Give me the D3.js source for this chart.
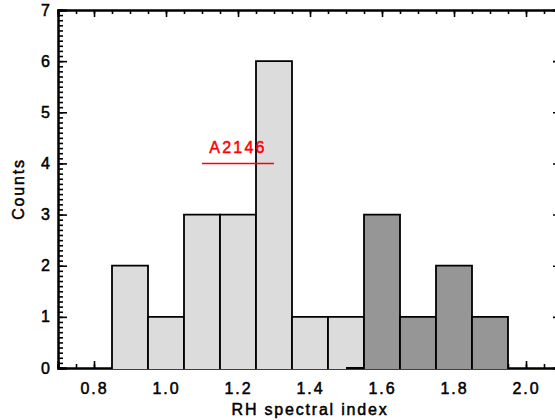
<!DOCTYPE html>
<html>
<head>
<meta charset="utf-8">
<script src="https://cdn.jsdelivr.net/npm/d3@7"></script>
<style>
  body { margin: 0; overflow: hidden; background: #fff; }
  text { font-family: "Liberation Sans", Arial, sans-serif; }
</style>
</head>
<body>
<div id="container"></div>
<script>
const WIDTH = 570;
const HEIGHT = 420;
const LEFT = 58;
const RIGHT = 562;
const TOP = 10;
const BOTTOM = 368;

// histogram bins (left edge) and counts
const BIN_WIDTH = 0.1;
const lightStarts = [0.85, 0.95, 1.05, 1.15, 1.25, 1.35, 1.45];
const lightCounts = [2, 1, 3, 3, 6, 1, 1];
const darkStarts = [1.55, 1.65, 1.75, 1.85];
const darkCounts = [3, 1, 2, 1];

// A2146 marker
const markerName = "A2146";
const markerRange = [1.1, 1.3];
const markerCount = 4;

const xTicks = [0.8, 1.0, 1.2, 1.4, 1.6, 1.8, 2.0];
const yTicks = [0, 1, 2, 3, 4, 5, 6, 7];

const svg = d3
  .select("#container")
  .append("svg")
  .attr("width", WIDTH)
  .attr("height", HEIGHT);

const x = d3.scaleLinear().domain([0.7, 2.1]).range([LEFT, RIGHT]);
const y = d3.scaleLinear().domain([0, 7]).range([BOTTOM, TOP]);

const xMinor = d3.range(0.7, 2.1001, 0.05).map((v) => +v.toFixed(2));
const yMinor = d3.range(0, 7.001, 0.1).map((v) => +v.toFixed(1));

// thicken text a little, the original font is heavier
const heavy = (sel, color) =>
  sel.attr("fill", color).attr("stroke", color).attr("stroke-width", 0.5);

const styleAxis = (g) => {
  g.select(".domain").attr("stroke-width", 2);
  g.selectAll(".tick line").attr("stroke-width", 1.6);
  g.selectAll(".tick text")
    .attr("font-size", 16)
    .attr("letter-spacing", 2)
    .call(heavy, "#000");
};

// minor ticks
svg.append("g")
  .attr("transform", `translate(0,${BOTTOM})`)
  .call(d3.axisBottom(x).tickValues(xMinor).tickSize(-4).tickFormat(""))
  .call(styleAxis);
svg.append("g")
  .attr("transform", `translate(0,${TOP})`)
  .call(d3.axisTop(x).tickValues(xMinor).tickSize(-4).tickFormat(""))
  .call(styleAxis);
svg.append("g")
  .attr("transform", `translate(${LEFT},0)`)
  .call(d3.axisLeft(y).tickValues(yMinor).tickSize(-5).tickFormat(""))
  .call(styleAxis);
svg.append("g")
  .attr("transform", `translate(${RIGHT},0)`)
  .call(d3.axisRight(y).tickValues(yMinor).tickSize(-5).tickFormat(""))
  .call(styleAxis);

// major ticks
svg.append("g")
  .attr("transform", `translate(0,${BOTTOM})`)
  .call(d3.axisBottom(x).tickValues(xTicks).tickSize(-7).tickPadding(15)
    .tickFormat(d3.format(".1f")))
  .call(styleAxis);
svg.append("g")
  .attr("transform", `translate(0,${TOP})`)
  .call(d3.axisTop(x).tickValues(xTicks).tickSize(-7).tickFormat(""))
  .call(styleAxis);
svg.append("g")
  .attr("transform", `translate(${LEFT},0)`)
  .call(d3.axisLeft(y).tickValues(yTicks).tickSize(-9).tickPadding(6)
    .tickFormat(d3.format("d")))
  .call(styleAxis);
svg.append("g")
  .attr("transform", `translate(${RIGHT},0)`)
  .call(d3.axisRight(y).tickValues(yTicks).tickSize(-9).tickFormat(""))
  .call(styleAxis);

// bars: open-bottom outline, fill hides the axis line underneath
const barPath = (start, count) => {
  const x0 = x(start);
  const x1 = x(start + BIN_WIDTH);
  const y0 = y(0) + 1;
  const y1 = y(count);
  return `M${x0},${y0}V${y1}H${x1}V${y0}`;
};

const drawBars = (starts, counts, fill) => {
  svg.append("g")
    .selectAll("path")
    .data(starts.map((s, i) => ({ start: s, count: counts[i] })))
    .enter()
    .append("path")
    .attr("d", (d) => barPath(d.start, d.count))
    .attr("fill", fill)
    .attr("stroke", "#000")
    .attr("stroke-width", 1.8);
};

drawBars(lightStarts, lightCounts, "#dcdcdc");
drawBars(darkStarts, darkCounts, "#969696");

// zero-level step in front of the first dark bin
svg.append("line")
  .attr("x1", x(darkStarts[0] - BIN_WIDTH / 2))
  .attr("x2", x(darkStarts[0]))
  .attr("y1", y(0))
  .attr("y2", y(0))
  .attr("stroke", "#000")
  .attr("stroke-width", 2);

// A2146 marker
svg.append("line")
  .attr("x1", x(markerRange[0]))
  .attr("x2", x(markerRange[1]))
  .attr("y1", y(markerCount))
  .attr("y2", y(markerCount))
  .attr("stroke", "#ff0000")
  .attr("stroke-width", 1.6);

svg.append("text")
  .attr("x", x((markerRange[0] + markerRange[1]) / 2))
  .attr("y", y(markerCount) - 10)
  .attr("text-anchor", "middle")
  .attr("font-size", 16)
  .attr("letter-spacing", 2.2)
  .call(heavy, "#ff0000")
  .text(markerName);

// axis titles
svg.append("text")
  .attr("x", (LEFT + RIGHT) / 2)
  .attr("y", 415)
  .attr("text-anchor", "middle")
  .attr("font-size", 16)
  .attr("letter-spacing", 1.8)
  .call(heavy, "#000")
  .text("RH spectral index");

svg.append("text")
  .attr("transform", `translate(24,${(TOP + BOTTOM) / 2}) rotate(-90)`)
  .attr("text-anchor", "middle")
  .attr("font-size", 16)
  .attr("letter-spacing", 1.8)
  .call(heavy, "#000")
  .text("Counts");
</script>
</body>
</html>
